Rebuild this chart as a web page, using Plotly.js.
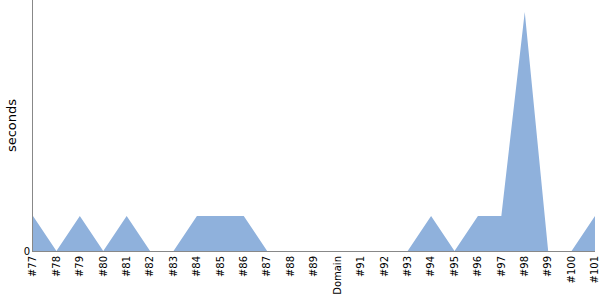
<!DOCTYPE html>
<html><head><meta charset="utf-8">
<script src="https://cdn.plot.ly/plotly-3.0.1.min.js"></script>
<style>html,body{margin:0;padding:0;background:#fff}#c{width:600px;height:300px}</style>
</head><body><div id="c"></div>
<script>
const categories = ["#77","#78","#79","#80","#81","#82","#83","#84","#85","#86","#87","#88","#89","Domain","#91","#92","#93","#94","#95","#96","#97","#98","#99","#100","#101"];
const seconds = [1,0,1,0,1,0,0,1,1,1,0,0,0,0,0,0,0,1,0,1,1,6.83,0,0,1];
const yTickVals = [0];
const yTickText = ["0"];

Plotly.newPlot('c', [{
  type: 'scatter', x: categories, y: seconds, mode: 'none',
  fill: 'tozeroy', fillcolor: 'rgb(143,177,220)', hoverinfo: 'skip'
}], {
  width: 600, height: 300,
  margin: {l: 33, r: 5, t: 0, b: 49},
  paper_bgcolor: '#fff', plot_bgcolor: '#fff',
  showlegend: false,
  font: {family: 'DejaVu Sans', size: 10, color: '#000'},
  xaxis: {type: 'category', range: [0, categories.length - 1], tickangle: -90,
    showgrid: false, zeroline: false, showline: true, linecolor: '#888', linewidth: 1,
    ticks: '', tickfont: {size: 10}, automargin: false},
  yaxis: {range: [0, 7.17], tickvals: yTickVals, ticktext: yTickText,
    showgrid: false, zeroline: false, showline: true, linecolor: '#888', linewidth: 1,
    ticks: '', tickfont: {size: 10},
    title: {text: 'seconds', font: {size: 13}, standoff: 4}, automargin: false}
}, {staticPlot: true});
</script></body></html>
